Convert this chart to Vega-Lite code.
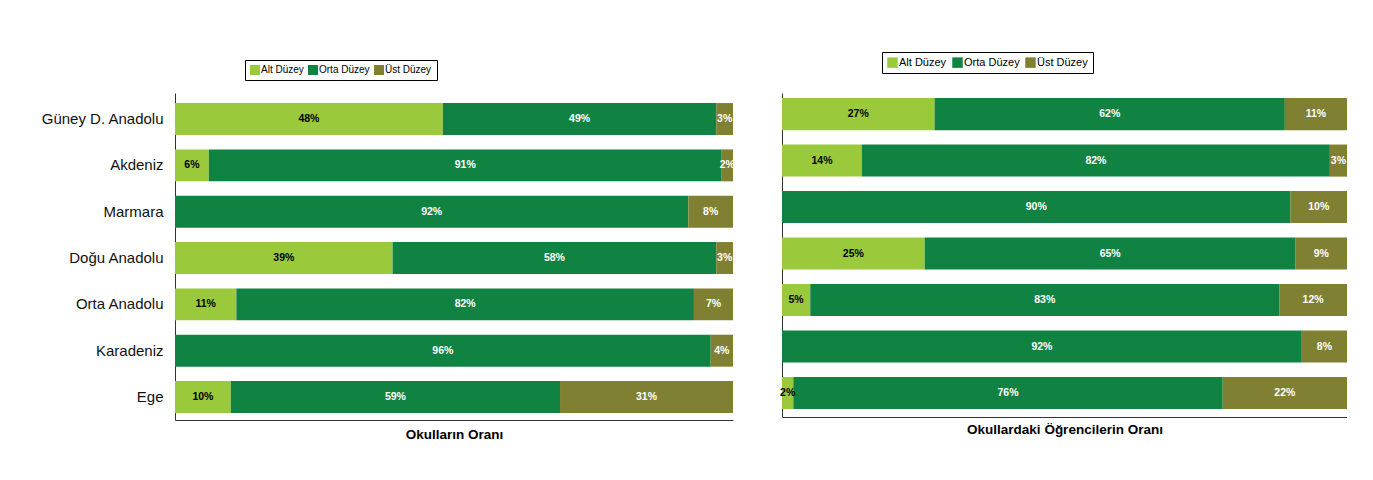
{
  "$schema": "https://vega.github.io/schema/vega-lite/v6.json",
  "padding": {"left": 40, "top": 51, "right": 0, "bottom": 0},
  "config": {
    "font": "Liberation Sans",
    "view": {"stroke": null},
    "concat": {"spacing": 45}
  },
  "datasets": {
    "okul": [
      {"region": "Güney D. Anadolu", "level": "Alt Düzey", "value": 0.48},
      {"region": "Güney D. Anadolu", "level": "Orta Düzey", "value": 0.49},
      {"region": "Güney D. Anadolu", "level": "Üst Düzey", "value": 0.03},
      {"region": "Akdeniz", "level": "Alt Düzey", "value": 0.06},
      {"region": "Akdeniz", "level": "Orta Düzey", "value": 0.91},
      {"region": "Akdeniz", "level": "Üst Düzey", "value": 0.02},
      {"region": "Marmara", "level": "Alt Düzey", "value": 0},
      {"region": "Marmara", "level": "Orta Düzey", "value": 0.92},
      {"region": "Marmara", "level": "Üst Düzey", "value": 0.08},
      {"region": "Doğu Anadolu", "level": "Alt Düzey", "value": 0.39},
      {"region": "Doğu Anadolu", "level": "Orta Düzey", "value": 0.58},
      {"region": "Doğu Anadolu", "level": "Üst Düzey", "value": 0.03},
      {"region": "Orta Anadolu", "level": "Alt Düzey", "value": 0.11},
      {"region": "Orta Anadolu", "level": "Orta Düzey", "value": 0.82},
      {"region": "Orta Anadolu", "level": "Üst Düzey", "value": 0.07},
      {"region": "Karadeniz", "level": "Alt Düzey", "value": 0},
      {"region": "Karadeniz", "level": "Orta Düzey", "value": 0.96},
      {"region": "Karadeniz", "level": "Üst Düzey", "value": 0.04},
      {"region": "Ege", "level": "Alt Düzey", "value": 0.10},
      {"region": "Ege", "level": "Orta Düzey", "value": 0.59},
      {"region": "Ege", "level": "Üst Düzey", "value": 0.31}
    ],
    "ogrenci": [
      {"region": "Güney D. Anadolu", "level": "Alt Düzey", "value": 0.27},
      {"region": "Güney D. Anadolu", "level": "Orta Düzey", "value": 0.62},
      {"region": "Güney D. Anadolu", "level": "Üst Düzey", "value": 0.11},
      {"region": "Akdeniz", "level": "Alt Düzey", "value": 0.14},
      {"region": "Akdeniz", "level": "Orta Düzey", "value": 0.82},
      {"region": "Akdeniz", "level": "Üst Düzey", "value": 0.03},
      {"region": "Marmara", "level": "Alt Düzey", "value": 0},
      {"region": "Marmara", "level": "Orta Düzey", "value": 0.90},
      {"region": "Marmara", "level": "Üst Düzey", "value": 0.10},
      {"region": "Doğu Anadolu", "level": "Alt Düzey", "value": 0.25},
      {"region": "Doğu Anadolu", "level": "Orta Düzey", "value": 0.65},
      {"region": "Doğu Anadolu", "level": "Üst Düzey", "value": 0.09},
      {"region": "Orta Anadolu", "level": "Alt Düzey", "value": 0.05},
      {"region": "Orta Anadolu", "level": "Orta Düzey", "value": 0.83},
      {"region": "Orta Anadolu", "level": "Üst Düzey", "value": 0.12},
      {"region": "Karadeniz", "level": "Alt Düzey", "value": 0},
      {"region": "Karadeniz", "level": "Orta Düzey", "value": 0.92},
      {"region": "Karadeniz", "level": "Üst Düzey", "value": 0.08},
      {"region": "Ege", "level": "Alt Düzey", "value": 0.02},
      {"region": "Ege", "level": "Orta Düzey", "value": 0.76},
      {"region": "Ege", "level": "Üst Düzey", "value": 0.22}
    ]
  },
  "resolve": {"legend": {"color": "independent"}},
  "hconcat": [
    {
      "width": 558,
      "height": 327,
      "data": {"name": "okul"},
      "transform": [
        {"filter": "datum.value > 0"},
        {"stack": "value", "groupby": ["region"], "sort": [{"field": "level"}], "offset": "normalize", "as": ["x0", "x1"]},
        {"calculate": "(datum.x0 + datum.x1) / 2", "as": "mid"}
      ],
      "encoding": {
        "y": {
          "field": "region", "type": "nominal",
          "sort": ["Güney D. Anadolu", "Akdeniz", "Marmara", "Doğu Anadolu", "Orta Anadolu", "Karadeniz", "Ege"],
          "scale": {"paddingInner": 0.31, "paddingOuter": 0.184, "align": 0.59},
          "axis": {"title": null, "ticks": false, "labelFontSize": 15, "labelColor": "#111", "labelPadding": 12, "domainColor": "#333", "domainWidth": 1}
        }
      },
      "layer": [
        {
          "mark": {"type": "bar"},
          "encoding": {
            "x": {
              "field": "x0", "type": "quantitative",
              "scale": {"domain": [0, 1], "nice": false, "zero": true},
              "axis": {"title": "Okulların Oranı", "labels": false, "ticks": false, "grid": false, "domainColor": "#333", "domainWidth": 1, "titleFontSize": 13.5, "titleFontWeight": "bold", "titleColor": "#000", "titlePadding": 7}
            },
            "x2": {"field": "x1"},
            "color": {
              "field": "level", "type": "nominal",
              "scale": {"domain": ["Alt Düzey", "Orta Düzey", "Üst Düzey"], "range": ["#9aca3c", "#108343", "#808033"]},
              "legend": {"title": null, "orient": "none", "direction": "horizontal", "legendX": 70, "legendY": -33, "symbolType": "square", "symbolSize": 100, "symbolStrokeWidth": 0, "labelFontSize": 10, "labelColor": "#000", "labelOffset": 1, "columnPadding": 4, "strokeColor": "#000", "padding": 5, "fillColor": "#fff"}
            }
          }
        },
        {
          "mark": {"type": "text", "fontWeight": "bold", "fontSize": 10.5},
          "encoding": {
            "x": {"field": "mid", "type": "quantitative"},
            "text": {"field": "value", "type": "quantitative", "format": ".0%"},
            "color": {"condition": {"test": "datum.level === 'Alt Düzey'", "value": "#000"}, "value": "#fff"}
          }
        }
      ]
    },
    {
      "width": 565,
      "height": 324,
      "data": {"name": "ogrenci"},
      "transform": [
        {"filter": "datum.value > 0"},
        {"stack": "value", "groupby": ["region"], "sort": [{"field": "level"}], "offset": "normalize", "as": ["x0", "x1"]},
        {"calculate": "(datum.x0 + datum.x1) / 2", "as": "mid"}
      ],
      "encoding": {
        "y": {
          "field": "region", "type": "nominal",
          "sort": ["Güney D. Anadolu", "Akdeniz", "Marmara", "Doğu Anadolu", "Orta Anadolu", "Karadeniz", "Ege"],
          "scale": {"paddingInner": 0.31, "paddingOuter": 0.139, "align": 0.39},
          "axis": {"title": null, "ticks": false, "labels": false, "domainColor": "#333", "domainWidth": 1}
        }
      },
      "layer": [
        {
          "mark": {"type": "bar"},
          "encoding": {
            "x": {
              "field": "x0", "type": "quantitative",
              "scale": {"domain": [0, 1], "nice": false, "zero": true},
              "axis": {"title": "Okullardaki Öğrencilerin Oranı", "labels": false, "ticks": false, "grid": false, "domainColor": "#333", "domainWidth": 1, "titleFontSize": 13.5, "titleFontWeight": "bold", "titleColor": "#000", "titlePadding": 5}
            },
            "x2": {"field": "x1"},
            "color": {
              "field": "level", "type": "nominal",
              "scale": {"domain": ["Alt Düzey", "Orta Düzey", "Üst Düzey"], "range": ["#9aca3c", "#108343", "#808033"]},
              "legend": {"title": null, "orient": "none", "direction": "horizontal", "legendX": 100, "legendY": -41, "symbolType": "square", "symbolSize": 110, "symbolStrokeWidth": 0, "labelFontSize": 11, "labelColor": "#000", "labelOffset": 1, "columnPadding": 5, "strokeColor": "#000", "padding": 5, "fillColor": "#fff"}
            }
          }
        },
        {
          "mark": {"type": "text", "fontWeight": "bold", "fontSize": 10.5},
          "encoding": {
            "x": {"field": "mid", "type": "quantitative"},
            "text": {"field": "value", "type": "quantitative", "format": ".0%"},
            "color": {"condition": {"test": "datum.level === 'Alt Düzey'", "value": "#000"}, "value": "#fff"}
          }
        }
      ]
    }
  ]
}
